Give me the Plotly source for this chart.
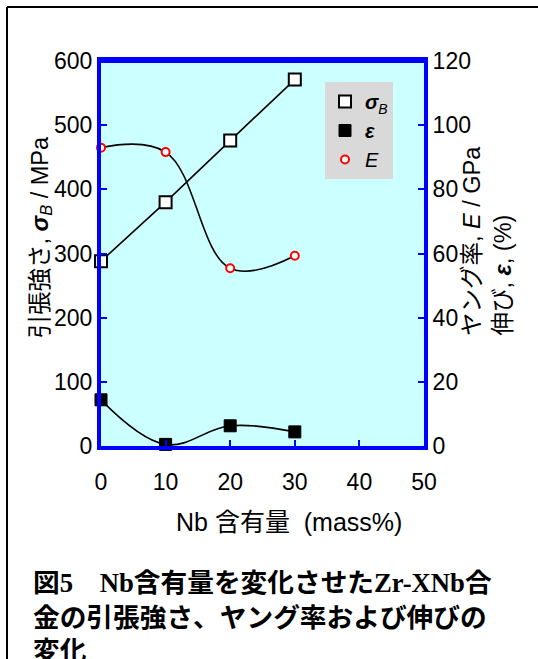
import plotly.graph_objects as go

# Nb content (mass%) of the Zr-XNb alloys
nb_content = [0, 10, 20, 30]
# Tensile strength sigma_B (MPa), left axis
tensile_strength = [288, 380, 476, 571]
# Elongation epsilon (%), right axis
elongation = [14.4, 0.5, 6.3, 4.4]
# Young's modulus E (GPa), right axis
youngs_modulus = [93.0, 91.6, 55.4, 59.3]

x_ticks = [0, 10, 20, 30, 40, 50]
left_ticks = [0, 100, 200, 300, 400, 500, 600]
right_ticks = [0, 20, 40, 60, 80, 100, 120]

W, H = 538, 659
L, R, T, B = 101, 424, 61, 446  # plot area in pixels


def px_x(x):
    return (x - L) / (R - L)


def px_y(y):
    return (B - y) / (B - T)


SANS = "Liberation Sans, Arial, Noto Sans CJK JP, sans-serif"
SERIF = "Liberation Serif, Times New Roman, Noto Sans CJK JP, serif"
BLUE = "#0000ff"
TITLE_SIZE = 23.5

fig = go.Figure()

series = [
    (tensile_strength, "<b><i>σ</i></b><sub><i>B</i></sub>", "y", "linear",
     dict(symbol="square", size=12, color="white", line=dict(color="black", width=2))),
    (elongation, "<b><i>ε</i></b>", "y2", "spline",
     dict(symbol="square", size=12, color="black", line=dict(color="black", width=1))),
    (youngs_modulus, "<i>E</i>", "y2", "spline",
     dict(symbol="circle", size=8, color="white", line=dict(color="#ff0000", width=2))),
]

# connecting lines (linear for sigma_B, smoothed for epsilon and E)
for values, name, yax, shape, _ in series:
    fig.add_trace(go.Scatter(
        x=nb_content, y=values, yaxis=yax, mode="lines", showlegend=False,
        line=dict(color="black", width=1.6, shape=shape, smoothing=1.1),
        hoverinfo="skip",
    ))
# data markers, which also make up the legend entries
for values, name, yax, _, marker in series:
    fig.add_trace(go.Scatter(
        x=nb_content, y=values, yaxis=yax, name=name, mode="markers",
        marker=marker, cliponaxis=False,
    ))

axis_common = dict(
    showline=True, linecolor=BLUE, linewidth=4,
    ticks="inside", tickcolor=BLUE, ticklen=6, tickwidth=2,
    showgrid=False, zeroline=False,
    tickfont=dict(family=SANS, size=23, color="black"),
)

fig.update_layout(
    width=W, height=H,
    margin=dict(l=L, r=W - R, t=T, b=H - B),
    paper_bgcolor="white", plot_bgcolor="#ccffff",
    showlegend=True,
    legend=dict(
        x=px_x(325), y=px_y(82), xanchor="left", yanchor="top",
        bgcolor="#d9d9d9", borderwidth=0,
        font=dict(family=SANS, size=20, color="black"),
        itemwidth=30, tracegroupgap=0,
    ),
    xaxis=dict(range=[0, 50], tickvals=x_ticks, mirror=True, ticklabelstandoff=12,
               **axis_common),
    yaxis=dict(range=[0, 600], tickvals=left_ticks, **axis_common),
    yaxis2=dict(range=[0, 120], tickvals=right_ticks, overlaying="y", side="right",
                **axis_common),
)
# top border line of the plot frame
fig.add_shape(type="line", xref="paper", yref="paper", x0=0, x1=1, y0=1, y1=1,
              line=dict(color=BLUE, width=4))

# axis titles
fig.add_annotation(
    text="引張強さ, <b><i>σ</i></b><sub><i>B</i></sub> / MPa",
    xref="paper", yref="paper", x=px_x(24), y=px_y(341), yanchor="bottom",
    textangle=-90, showarrow=False,
    font=dict(family=SANS, size=TITLE_SIZE, color="black"),
)
fig.add_annotation(
    text="ヤング率, <i>E</i> / GPa",
    xref="paper", yref="paper", x=px_x(487), y=px_y(338), yanchor="bottom",
    textangle=-90, showarrow=False,
    font=dict(family=SANS, size=TITLE_SIZE, color="black"),
)
fig.add_annotation(
    text="伸び, <b><i>ε</i></b>, (%)",
    xref="paper", yref="paper", x=px_x(517), y=px_y(338), yanchor="bottom",
    textangle=-90, showarrow=False,
    font=dict(family=SANS, size=TITLE_SIZE, color="black"),
)
fig.add_annotation(
    text="Nb 含有量\u00a0\u00a0(mass%)",
    xref="paper", yref="paper", x=px_x(289), y=px_y(522), yanchor="middle",
    showarrow=False, font=dict(family=SANS, size=25, color="black"),
)

# caption
caption_lines = [
    "<b>図5　Nb含有量を変化させたZr-XNb合</b>",
    "<b>金の引張強さ、ヤング率および伸びの</b>",
    "<b>変化</b>",
]
for line, yc in zip(caption_lines, [583, 618, 651]):
    fig.add_annotation(
        text=line, xref="paper", yref="paper", x=px_x(31), y=px_y(yc),
        xanchor="left", yanchor="middle", showarrow=False,
        font=dict(family=SERIF, size=26.7, color="black"),
    )

# outer frame (left and top edges)
fig.add_shape(type="line", xref="paper", yref="paper",
              x0=px_x(7), x1=px_x(7), y0=px_y(7), y1=px_y(H + 5),
              line=dict(color="black", width=2))
fig.add_shape(type="line", xref="paper", yref="paper",
              x0=px_x(7), x1=px_x(W + 5), y0=px_y(7), y1=px_y(7),
              line=dict(color="black", width=2))

fig.write_html("out.html")
